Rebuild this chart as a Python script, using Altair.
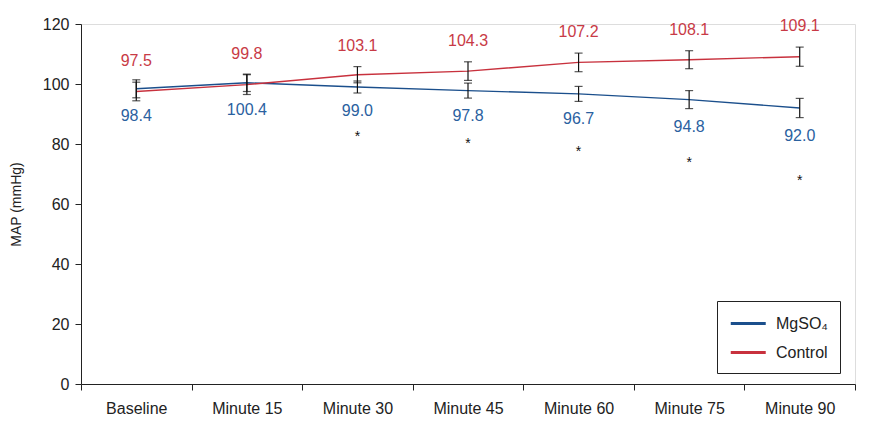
import altair as alt
import pandas as pd

categories = ["Baseline", "Minute 15", "Minute 30", "Minute 45", "Minute 60", "Minute 75", "Minute 90"]
mgso4 = [98.4, 100.4, 99.0, 97.8, 96.7, 94.8, 92.0]
mgso4_err = [3.0, 2.9, 2.0, 2.5, 2.5, 3.0, 3.2]
control = [97.5, 99.8, 103.1, 104.3, 107.2, 108.1, 109.1]
control_err = [3.1, 3.3, 2.7, 3.1, 3.1, 3.0, 3.2]
star_y = [None, None, 82.4, 80.1, 77.4, 73.8, 67.8]

groups = ["MgSO₄", "Control"]
colors = ["#1b4f8c", "#c8313d"]
text_colors = ["#2a619f", "#c83a46"]

rows = []
for i, c in enumerate(categories):
    rows.append({"time": c, "group": groups[0], "value": mgso4[i],
                 "lo": mgso4[i] - mgso4_err[i], "hi": mgso4[i] + mgso4_err[i],
                 "label": f"{mgso4[i]:.1f}", "anchor": mgso4[i] - mgso4_err[i]})
    rows.append({"time": c, "group": groups[1], "value": control[i],
                 "lo": control[i] - control_err[i], "hi": control[i] + control_err[i],
                 "label": f"{control[i]:.1f}", "anchor": control[i] + control_err[i]})
df = pd.DataFrame(rows)
stars = pd.DataFrame([{"time": c, "y": s, "t": "*"} for c, s in zip(categories, star_y) if s is not None])

FONT = "Liberation Sans"
FS = 16
xscale = alt.Scale(type="band", domain=categories, paddingInner=0, paddingOuter=0)
x = alt.X("time:N", scale=xscale, bandPosition=0.5, sort=categories,
          axis=alt.Axis(title=None, tickBand="extent", labelFontSize=FS, labelColor="#222",
                        domainColor="#222", tickColor="#222", tickSize=6, labelPadding=10,
                        labelAngle=0, labelFont=FONT))
yscale = alt.Scale(domain=[0, 120], nice=False)
y_axis = alt.Axis(title="MAP (mmHg)", values=[0, 20, 40, 60, 80, 100, 120], grid=False,
                  labelFontSize=FS, labelColor="#222", domainColor="#222", tickColor="#222",
                  tickSize=6, labelPadding=6, titleFontSize=14, titleFontWeight="normal",
                  titleColor="#222", titlePadding=19, labelFont=FONT, titleFont=FONT)
color = alt.Color("group:N", scale=alt.Scale(domain=groups, range=colors),
                  legend=alt.Legend(title=None, orient="none", legendX=636, legendY=277,
                                    strokeColor="#222", padding=12, fillColor="white",
                                    symbolType="M-1,0H3", symbolSize=306, symbolStrokeWidth=3,
                                    symbolOffset=0,
                                    labelFontSize=FS, labelFont=FONT, labelColor="#222",
                                    rowPadding=10, labelOffset=26))

base = alt.Chart(df)
xb = alt.X("time:N", scale=xscale, bandPosition=0.5, sort=categories)
lines = base.mark_line(strokeWidth=1.4).encode(
    x=x, y=alt.Y("value:Q", scale=yscale, axis=y_axis), color=color, detail="group:N")
rules = base.mark_rule(color="#111", strokeWidth=1.2).encode(x=xb, y="lo:Q", y2="hi:Q")
caps_lo = base.mark_tick(color="#111", thickness=1.2, size=8, orient="horizontal").encode(x=xb, y="lo:Q")
caps_hi = base.mark_tick(color="#111", thickness=1.2, size=8, orient="horizontal").encode(x=xb, y="hi:Q")
lab_mg = alt.Chart(df[df.group == groups[0]]).mark_text(
    fontSize=FS, font=FONT, color=text_colors[0], dy=18, baseline="middle").encode(
    x=xb, y="anchor:Q", text="label:N")
lab_ct = alt.Chart(df[df.group == groups[1]]).mark_text(
    fontSize=FS, font=FONT, color=text_colors[1], dy=-21, baseline="middle").encode(
    x=xb, y="anchor:Q", text="label:N")
star_marks = alt.Chart(stars).mark_text(fontSize=14, font=FONT, color="#111", baseline="middle").encode(
    x=xb, y="y:Q", text="t:N")

chart = alt.layer(lines, rules, caps_lo, caps_hi, lab_mg, lab_ct, star_marks).properties(
    width=774, height=360,
    autosize=alt.AutoSizeParams(type="none"),
    padding={"left": 73, "top": 16, "right": 5, "bottom": 40},
).configure_view(stroke=None).configure(background="white")

chart.save("out.html", embed_options={"renderer": "svg", "actions": False})
